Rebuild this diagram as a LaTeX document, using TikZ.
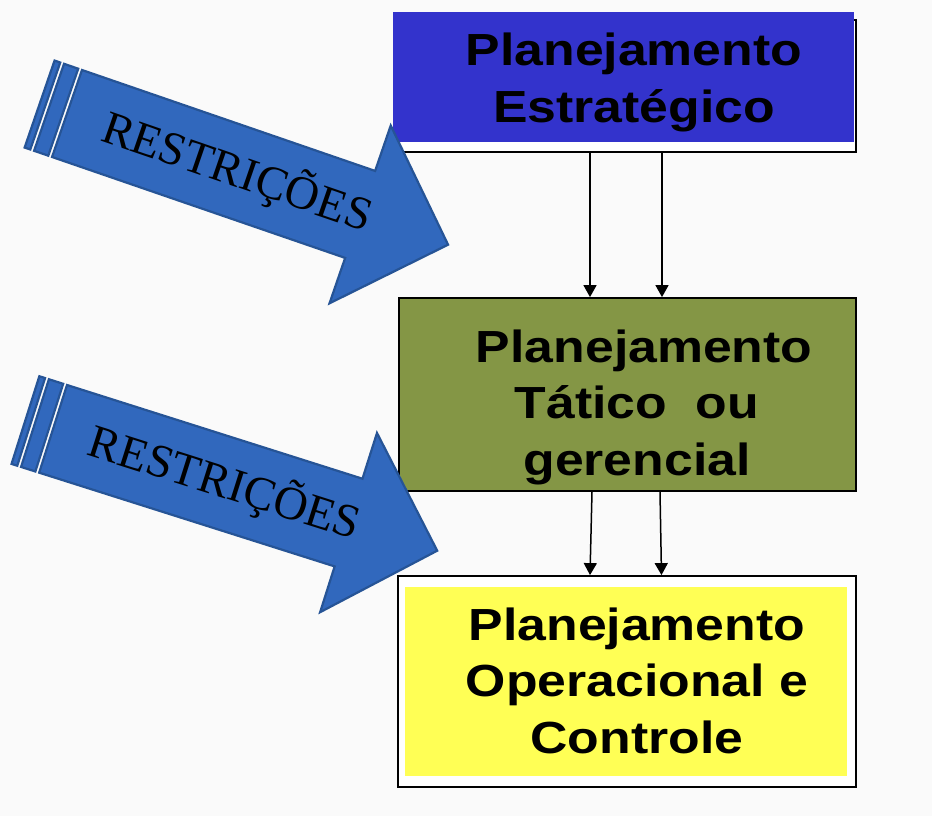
\documentclass[tikz,border=0pt]{standalone}
\usepackage{fontspec}
\usetikzlibrary{arrows.meta}
\newfontfamily\boxfont[FakeStretch=1.15]{Liberation Sans}
\newfontfamily\arrowfont{Liberation Serif}
\definecolor{bgcol}{RGB}{250,250,250}
\definecolor{estrblue}{RGB}{51,51,204}
\definecolor{taticoolive}{RGB}{132,150,69}
\definecolor{operyellow}{RGB}{255,255,85}
\definecolor{arrowfill}{RGB}{49,104,189}
\definecolor{arrowline}{RGB}{38,84,150}
\tikzset{
  frame/.style={draw=black, line width=1.8pt, fill=white, inner sep=0pt},
  panel/.style={inner sep=0pt},
  boxtext/.style={align=center, anchor=base, inner sep=0pt,
    font=\boxfont\bfseries\fontsize{45}{56.5}\selectfont},
  flow/.style={line width=1.5pt, -{Triangle[length=12pt,width=13pt]}},
  stripe/.style={fill=arrowfill, draw=arrowline, line width=2.2pt},
  restr/.pic={
    % stripes at the tail
    \path[stripe] (-29,0) rectangle (-23,92);
    \path[stripe] (-19,0) rectangle (-4,92);
    % shaft and head
    \path[stripe, line join=miter] (0,0) -- (310,0) -- (310,-48) -- (403,46)
      -- (310,140) -- (310,92) -- (0,92) -- cycle;
    \node[transform shape, inner sep=0pt,
      font=\arrowfont\fontsize{47}{47}\selectfont] (-lbl) at (180,46) {RESTRIÇÕES};
  }
}
\begin{document}
\begin{tikzpicture}[x=1pt, y=-1pt]
  \useasboundingbox[fill=bgcol] (0,0) rectangle (932,816);
  % strategic level
  \node[frame, minimum width=460pt, minimum height=132pt] (estr) at (626,86) {};
  \node[panel, fill=estrblue, minimum width=461pt, minimum height=130pt] (estrfill) at (623.5,77) {};
  \node[boxtext] (estrtxt) at (634,122) {Planejamento\\Estratégico};
  % tactical level
  \node[frame, fill=taticoolive, minimum width=457pt, minimum height=193pt] (tat) at (627.5,394.5) {};
  \node[boxtext] (tattxt) at (637,475) {\ Planejamento\\Tático\ \ ou\\gerencial};
  % operational level
  \node[frame, minimum width=458pt, minimum height=211pt] (oper) at (627,681.5) {};
  \node[panel, fill=operyellow, minimum width=442pt, minimum height=189pt] (operfill) at (626,681.5) {};
  \node[boxtext] (opertxt) at (637,753) {Planejamento\\Operacional e\\Controle};
  % connectors
  \draw[flow] ([xshift=-36pt]estr.south) -- ([xshift=-37.5pt]tat.north);
  \draw[flow] ([xshift=36pt]estr.south) -- ([xshift=34.5pt]tat.north);
  \draw[flow] ([xshift=-35.5pt]tat.south) -- ([xshift=-37pt]oper.north);
  \draw[flow] ([xshift=32.5pt]tat.south) -- ([xshift=34.5pt]oper.north);
  % restriction arrows
  \pic[rotate=-19] (restrA) at (82,70) {restr};
  \pic[rotate=-17.6] (restrB) at (67,385) {restr};
\end{tikzpicture}
\end{document}
